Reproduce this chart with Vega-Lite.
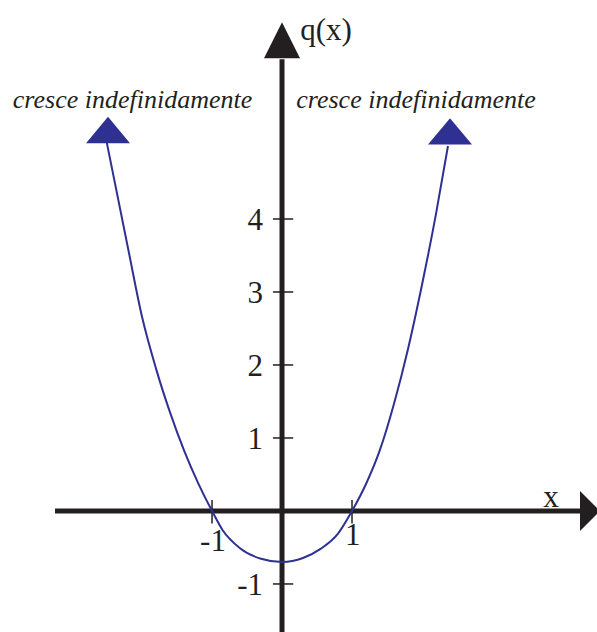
{
  "$schema": "https://vega.github.io/schema/vega-lite/v6.json",
  "width": 597,
  "height": 632,
  "autosize": "none",
  "padding": 0,
  "background": "white",
  "config": {"view": {"stroke": null}},
  "datasets": {
    "curve": [
      {"x": -2.504, "y": 5.05},
      {"x": -2.2, "y": 3.6},
      {"x": -2.0, "y": 2.66},
      {"x": -1.8, "y": 1.95},
      {"x": -1.6, "y": 1.35},
      {"x": -1.4, "y": 0.83},
      {"x": -1.2, "y": 0.385},
      {"x": -1.0, "y": 0.0},
      {"x": -0.85, "y": -0.26},
      {"x": -0.6, "y": -0.51},
      {"x": -0.3, "y": -0.655},
      {"x": 0.0, "y": -0.7},
      {"x": 0.3, "y": -0.645},
      {"x": 0.55, "y": -0.52},
      {"x": 0.8, "y": -0.31},
      {"x": 1.0, "y": 0.0},
      {"x": 1.2, "y": 0.37},
      {"x": 1.4, "y": 0.84},
      {"x": 1.6, "y": 1.47},
      {"x": 1.8, "y": 2.22},
      {"x": 2.0, "y": 3.1},
      {"x": 2.2, "y": 4.07},
      {"x": 2.371, "y": 5.0}
    ],
    "blueArrows": [
      {"x": -2.486, "y": 5.22},
      {"x": 2.4, "y": 5.2}
    ],
    "yticks": [{"v": 4}, {"v": 3}, {"v": 2}, {"v": 1}, {"v": -1}],
    "xticks": [{"v": -1}, {"v": 1}],
    "ylabels": [
      {"y": 4, "label": "4"},
      {"y": 3, "label": "3"},
      {"y": 2, "label": "2"},
      {"y": 1, "label": "1"},
      {"y": -1, "label": "-1"}
    ],
    "otherLabels": [
      {"x": -0.986, "y": -0.425, "label": "-1"},
      {"x": 1.01, "y": -0.34, "label": "1"},
      {"x": 3.843, "y": 0.178, "label": "x"},
      {"x": 0.629, "y": 6.575, "label": "q(x)"}
    ],
    "notes": [
      {"x": -2.136, "y": 5.52, "label": "cresce indefinidamente"},
      {"x": 1.914, "y": 5.52, "label": "cresce indefinidamente"}
    ]
  },
  "encoding": {
    "x": {"type": "quantitative", "scale": {"domain": [-4.029, 4.5], "nice": false, "zero": false}, "axis": null},
    "y": {"type": "quantitative", "scale": {"domain": [-1.658, 7.0], "nice": false, "zero": false}, "axis": null}
  },
  "layer": [
    {
      "data": {"values": [{"a": 0}]},
      "mark": {"type": "rule", "color": "#231f20", "strokeWidth": 5},
      "encoding": {
        "x": {"datum": -3.243, "type": "quantitative"},
        "x2": {"datum": 4.257},
        "y": {"datum": 0, "type": "quantitative"}
      }
    },
    {
      "data": {"values": [{"a": 0}]},
      "mark": {"type": "rule", "color": "#231f20", "strokeWidth": 5},
      "encoding": {
        "x": {"datum": 0, "type": "quantitative"},
        "y": {"datum": -1.658, "type": "quantitative"},
        "y2": {"datum": 6.19}
      }
    },
    {
      "data": {"values": [{"a": 0}]},
      "mark": {"type": "point", "shape": "M0,-1L1,1L-1,1Z", "size": 1296, "filled": true, "color": "#231f20", "opacity": 1},
      "encoding": {
        "x": {"datum": 0, "type": "quantitative"},
        "y": {"datum": 6.45, "type": "quantitative"}
      }
    },
    {
      "data": {"values": [{"a": 0}]},
      "mark": {"type": "point", "shape": "M0.5,0L-0.5,1L-0.5,-1Z", "size": 1600, "filled": true, "color": "#231f20", "opacity": 1},
      "encoding": {
        "x": {"datum": 4.4, "type": "quantitative"},
        "y": {"datum": 0, "type": "quantitative"}
      }
    },
    {
      "data": {"name": "yticks"},
      "mark": {"type": "rule", "color": "#231f20", "strokeWidth": 1.5},
      "encoding": {
        "x": {"datum": -0.13, "type": "quantitative"},
        "x2": {"datum": 0.16},
        "y": {"field": "v", "type": "quantitative"}
      }
    },
    {
      "data": {"name": "xticks"},
      "mark": {"type": "rule", "color": "#231f20", "strokeWidth": 1.5},
      "encoding": {
        "x": {"field": "v", "type": "quantitative"},
        "y": {"datum": 0.15, "type": "quantitative"},
        "y2": {"datum": -0.17}
      }
    },
    {
      "data": {"name": "curve"},
      "mark": {"type": "line", "color": "#2e3192", "strokeWidth": 2, "interpolate": "monotone"},
      "encoding": {
        "x": {"field": "x", "type": "quantitative"},
        "y": {"field": "y", "type": "quantitative"}
      }
    },
    {
      "data": {"name": "blueArrows"},
      "mark": {"type": "point", "shape": "M0,-0.6L1,0.6L-1,0.6Z", "size": 1936, "filled": true, "color": "#2e3192", "opacity": 1},
      "encoding": {
        "x": {"field": "x", "type": "quantitative"},
        "y": {"field": "y", "type": "quantitative"}
      }
    },
    {
      "data": {"name": "ylabels"},
      "mark": {"type": "text", "font": "Liberation Serif", "fontSize": 31, "align": "right", "baseline": "middle", "dy": 2, "color": "#231f20"},
      "encoding": {
        "x": {"datum": -0.27, "type": "quantitative"},
        "y": {"field": "y", "type": "quantitative"},
        "text": {"field": "label"}
      }
    },
    {
      "data": {"name": "otherLabels"},
      "mark": {"type": "text", "font": "Liberation Serif", "fontSize": 31, "align": "center", "baseline": "middle", "color": "#231f20"},
      "encoding": {
        "x": {"field": "x", "type": "quantitative"},
        "y": {"field": "y", "type": "quantitative"},
        "text": {"field": "label"}
      }
    },
    {
      "data": {"name": "notes"},
      "mark": {"type": "text", "font": "Liberation Serif", "fontSize": 26, "fontStyle": "italic", "align": "center", "baseline": "alphabetic", "color": "#231f20"},
      "encoding": {
        "x": {"field": "x", "type": "quantitative"},
        "y": {"field": "y", "type": "quantitative"},
        "text": {"field": "label"}
      }
    }
  ]
}
